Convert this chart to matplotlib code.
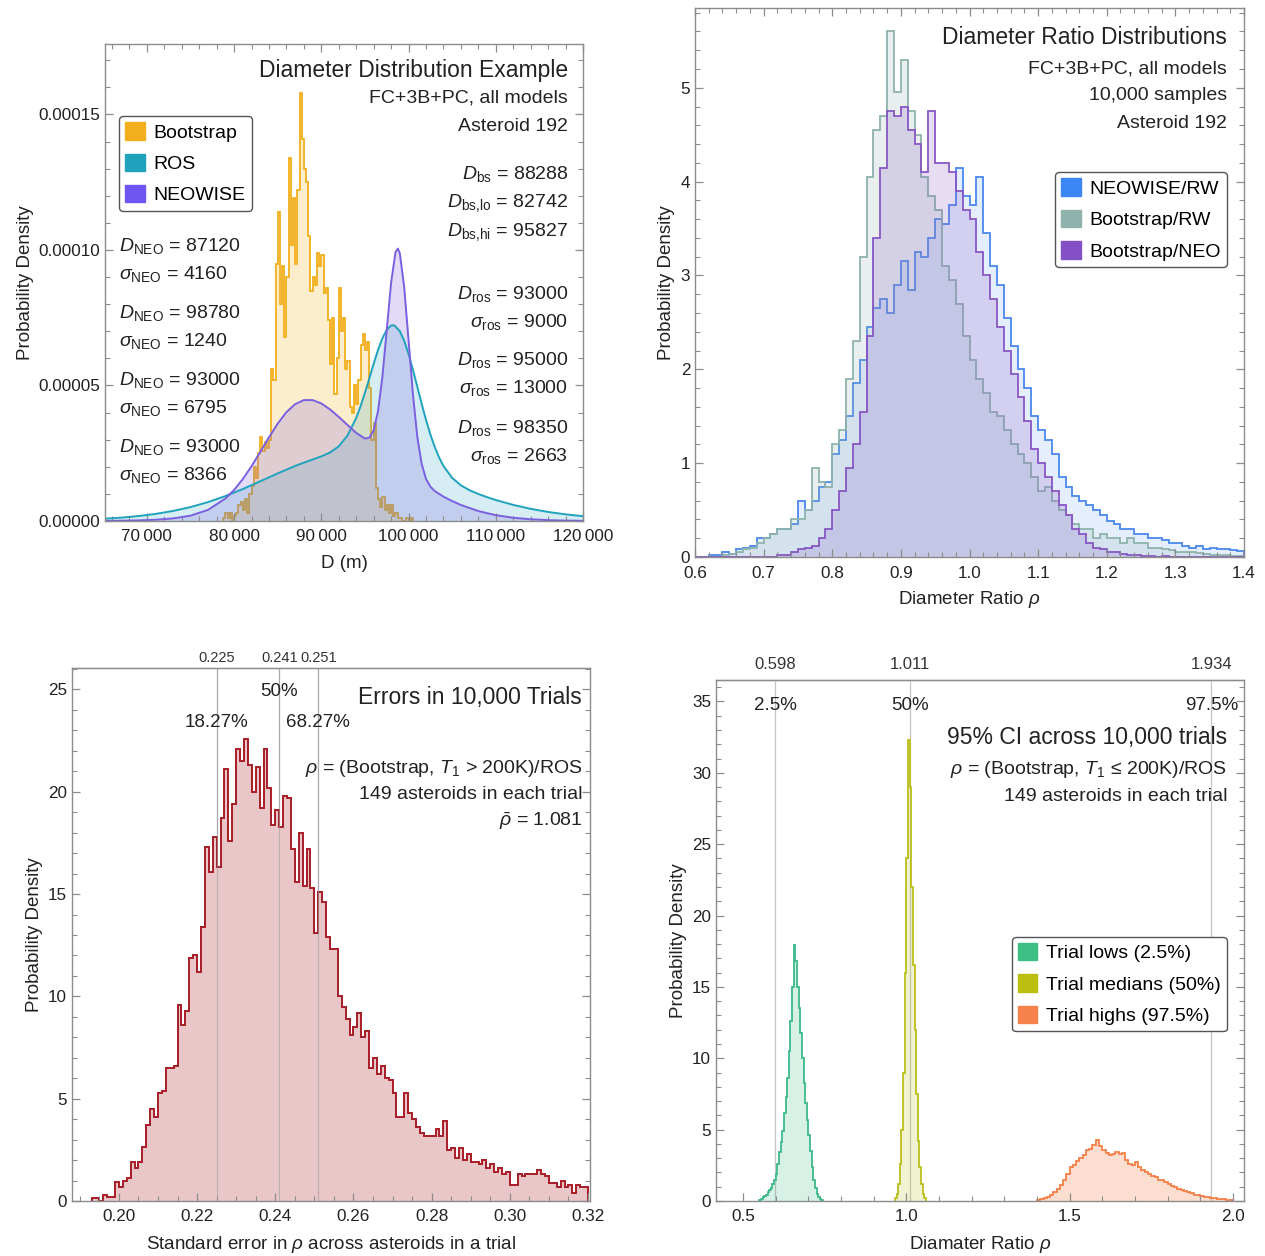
import numpy as np
import matplotlib
matplotlib.use("Agg")
import matplotlib.pyplot as plt
from matplotlib.patches import Patch
from matplotlib.ticker import MultipleLocator

plt.rcParams['font.family'] = ['Liberation Sans', 'DejaVu Sans']
plt.rcParams['mathtext.fontset'] = 'custom'
plt.rcParams['mathtext.rm'] = 'Liberation Sans'
plt.rcParams['mathtext.it'] = 'Liberation Sans:italic'
plt.rcParams['mathtext.bf'] = 'Liberation Sans:bold'
plt.rcParams['mathtext.sf'] = 'Liberation Sans'

# ---------------- top left: diameter distribution example ----------------
boot_start = 78750
boot_width = 250
# density in units of 1e-5 per metre
boot_vals = [0.1, 0.3, 0.1, 0.3, 0.0, 0.2, 0.3, 0.6, 0.7, 0.4,
             0.8, 0.3, 1.0, 1.3, 2.0, 1.6, 2.5, 3.1, 2.6, 2.9,
             2.7, 3.0, 5.6, 5.2, 9.5, 11.4, 8.0, 9.4, 6.8, 9.0,
             13.4, 10.2, 11.9, 9.5, 12.2, 15.8, 14.1, 13.0, 12.5, 10.5,
             8.5, 9.0, 8.7, 9.9, 9.4, 9.8, 8.4, 8.6, 7.4, 5.8,
             7.5, 4.7, 6.0, 8.6, 7.0, 7.5, 5.6, 5.9, 4.2, 4.0,
             5.0, 4.3, 5.2, 6.5, 6.9, 6.3, 6.6, 4.9, 3.0, 3.6,
             1.2, 0.8, 0.5, 0.9, 0.4, 0.6, 0.3, 0.6, 0.2, 0.3,
             0.1, 0.1, 0.0, 0.0, 0.1, 0.0, 0.1]

ros_x = [65000, 67000, 69000, 71000, 73000, 75000, 77000, 79000, 81000, 83000,
         85000, 87000, 88000, 89000, 90000, 91000, 92000, 93000, 94000, 94500,
         95000, 95500, 96000, 96500, 97000, 97500, 98000, 98350, 99000, 99500,
         100000, 100500, 101000, 101500, 102000, 102500, 103000, 103500, 104000, 105000,
         106000, 107000, 108000, 109000, 110000, 112000, 114000, 116000, 118000, 120000]
ros_y = [0.083, 0.123, 0.181, 0.261, 0.370, 0.513, 0.696, 0.920, 1.180, 1.465,
         1.756, 2.030, 2.154, 2.268, 2.384, 2.527, 2.755, 3.152, 3.802, 4.235,
         4.728, 5.26, 5.80, 6.309, 6.741, 7.054, 7.213, 7.222, 7.005, 6.652,
         6.163, 5.584, 4.959, 4.329, 3.733, 3.195, 2.731, 2.344, 2.031, 1.589,
         1.316, 1.134, 0.996, 0.879, 0.774, 0.594, 0.449, 0.334, 0.245, 0.177]

neo_x = [65000, 67000, 69000, 71000, 73000, 75000, 77000, 79000, 80000, 81000,
         82000, 83000, 84000, 85000, 86000, 87000, 88000, 89000, 90000, 91000,
         92000, 93000, 94000, 95000, 95500, 96000, 96500, 97000, 97500, 98000,
         98500, 98780, 99000, 99500, 100000, 100500, 101000, 101500, 102000, 102500,
         103000, 104000, 105000, 106000, 108000, 110000, 112000, 114000, 116000, 118000,
         120000]
neo_y = [0.0047, 0.0105, 0.0225, 0.0467, 0.095, 0.196, 0.408, 0.827, 1.146, 1.547,
         2.022, 2.548, 3.088, 3.594, 4.016, 4.312, 4.461, 4.461, 4.336, 4.116,
         3.841, 3.543, 3.251, 3.040, 3.071, 3.347, 4.050, 5.311, 7.038, 8.794,
         9.915, 10.05, 9.874, 8.635, 6.680, 4.682, 3.117, 2.114, 1.555, 1.267,
         1.105, 0.899, 0.735, 0.592, 0.367, 0.215, 0.120, 0.0635, 0.032, 0.0154,
         0.0071]

tl_xticks = [70000, 80000, 90000, 100000, 110000, 120000]
tl_xticklabels = ['70\u2009000', '80\u2009000', '90\u2009000', '100\u2009000', '110\u2009000', '120\u2009000']
tl_yticks = [0, 0.00005, 0.0001, 0.00015]
tl_yticklabels = ['0.00000', '0.00005', '0.00010', '0.00015']
tl_legend = ['Bootstrap', 'ROS', 'NEOWISE']
tl_right_notes = [r'$D_{\rm bs}$ = 88288', r'$D_{\rm bs{,}lo}$ = 82742', r'$D_{\rm bs{,}hi}$ = 95827',
                  r'$D_{\rm ros}$ = 93000', r'$\sigma_{\rm ros}$ = 9000',
                  r'$D_{\rm ros}$ = 95000', r'$\sigma_{\rm ros}$ = 13000',
                  r'$D_{\rm ros}$ = 98350', r'$\sigma_{\rm ros}$ = 2663']
tl_left_notes = [r'$D_{\rm NEO}$ = 87120', r'$\sigma_{\rm NEO}$ = 4160',
                 r'$D_{\rm NEO}$ = 98780', r'$\sigma_{\rm NEO}$ = 1240',
                 r'$D_{\rm NEO}$ = 93000', r'$\sigma_{\rm NEO}$ = 6795',
                 r'$D_{\rm NEO}$ = 93000', r'$\sigma_{\rm NEO}$ = 8366']

# ---------------- top right: ratio distributions ----------------
ratio_start = 0.60
ratio_width = 0.01
neo_rw = [0.0, 0.0, 0.02, 0.02, 0.05, 0.03, 0.08, 0.1, 0.12, 0.2,
          0.2, 0.25, 0.3, 0.3, 0.35, 0.6, 0.5, 0.6, 0.75, 0.8,
          1.1, 1.25, 1.5, 1.85, 2.1, 2.45, 2.65, 2.75, 2.6, 2.9,
          3.15, 2.85, 3.25, 3.2, 3.4, 3.6, 3.55, 3.75, 4.15, 3.85,
          3.75, 4.05, 3.45, 3.1, 2.9, 2.55, 2.25, 2.0, 1.8, 1.5,
          1.35, 1.25, 1.1, 0.85, 0.75, 0.65, 0.6, 0.55, 0.5, 0.45,
          0.38, 0.35, 0.3, 0.3, 0.25, 0.25, 0.2, 0.2, 0.18, 0.15,
          0.15, 0.12, 0.1, 0.12, 0.08, 0.1, 0.08, 0.08, 0.07, 0.06]
boot_rw = [0.0, 0.0, 0.0, 0.0, 0.02, 0.03, 0.05, 0.08, 0.1, 0.15,
           0.2, 0.25, 0.3, 0.3, 0.4, 0.4, 0.5, 0.95, 0.8, 0.75,
           1.2, 1.35, 1.9, 2.3, 3.2, 4.05, 4.55, 4.7, 5.6, 4.95,
           5.3, 4.75, 4.5, 4.05, 3.85, 3.7, 3.1, 2.95, 2.7, 2.35,
           2.1, 1.9, 1.75, 1.55, 1.5, 1.35, 1.2, 1.1, 1.0, 0.85,
           0.7, 0.75, 0.6, 0.5, 0.45, 0.35, 0.3, 0.3, 0.2, 0.25,
           0.2, 0.2, 0.15, 0.2, 0.15, 0.15, 0.1, 0.1, 0.08, 0.07,
           0.05, 0.05, 0.05, 0.04, 0.03, 0.02, 0.02, 0.02, 0.01, 0.01]
boot_neo = [0.0, 0.0, 0.0, 0.0, 0.0, 0.0, 0.0, 0.0, 0.0, 0.0,
            0.0, 0.0, 0.02, 0.02, 0.05, 0.08, 0.1, 0.12, 0.2, 0.3,
            0.5, 0.7, 0.95, 1.2, 1.55, 2.35, 3.4, 4.15, 4.75, 4.7,
            4.8, 4.55, 4.4, 4.1, 4.75, 4.2, 4.2, 4.1, 3.9, 3.7,
            3.6, 3.25, 3.0, 2.75, 2.45, 2.2, 1.95, 1.7, 1.45, 1.15,
            1.0, 0.85, 0.7, 0.55, 0.45, 0.3, 0.25, 0.15, 0.1, 0.08,
            0.05, 0.05, 0.03, 0.02, 0.02, 0.01, 0.01, 0.0, 0.01, 0.0,
            0.0, 0.0, 0.0, 0.0, 0.0, 0.0, 0.0, 0.0, 0.0, 0.0]
tr_legend = ['NEOWISE/RW', 'Bootstrap/RW', 'Bootstrap/NEO']
tr_notes = ['FC+3B+PC, all models', '10,000 samples', 'Asteroid 192']

# ---------------- bottom left: errors in trials ----------------
err_start = 0.193
err_width = 0.001
err_vals = [0.15, 0.15, 0.0, 0.3, 0.2, 0.2, 0.95, 0.7, 1.0, 1.1,
            1.9, 1.6, 1.9, 2.65, 3.7, 4.5, 4.1, 5.3, 5.4, 6.5,
            6.5, 6.6, 9.6, 8.6, 9.3, 11.9, 12.0, 11.2, 13.4, 17.3,
            16.1, 17.8, 16.3, 18.7, 21.1, 17.6, 19.4, 22.1, 21.5, 22.6,
            21.3, 20.0, 21.2, 19.2, 22.1, 20.2, 18.4, 19.1, 18.3, 19.8,
            19.7, 17.2, 15.6, 18.0, 15.4, 17.2, 15.3, 13.1, 15.1, 14.6,
            12.9, 12.3, 12.3, 10.0, 9.5, 8.9, 8.1, 8.5, 9.2, 8.0,
            8.3, 6.5, 7.0, 6.2, 6.6, 6.0, 5.9, 5.3, 4.1, 4.1,
            5.3, 4.3, 4.0, 3.6, 3.3, 3.2, 3.2, 3.2, 3.5, 3.2,
            3.9, 2.5, 2.6, 2.1, 2.6, 2.0, 2.3, 1.9, 1.9, 1.8,
            2.0, 1.6, 1.8, 1.4, 1.6, 1.3, 1.4, 0.8, 0.8, 1.3,
            1.2, 1.3, 1.3, 1.3, 1.5, 1.3, 1.2, 0.9, 0.9, 0.7,
            1.0, 0.7, 0.8, 0.4, 0.8, 0.7, 0.7]
err_pcts = [0.225, 0.241, 0.251]
err_pct_tags = ['18.27%', '50%', '68.27%']
err_notes = [r'$\rho$ = (Bootstrap, $T_1$ > 200K)/ROS', '149 asteroids in each trial',
             r'$\bar{\rho}$ = 1.081']

# ---------------- bottom right: 95% CI across trials ----------------
ci_fine = 0.005
lows_start = 0.550
lows_vals = [0.1, 0.15, 0.25, 0.35, 0.45, 0.6, 0.75, 0.9, 1.2, 1.5,
             1.9, 2.6, 3.4, 4.1, 4.9, 6.2, 7.3, 8.6, 10.5, 12.6,
             15.0, 17.9, 16.8, 15.0, 13.5, 11.8, 10.0, 8.3, 6.9, 5.7,
             4.6, 3.5, 2.4, 1.5, 0.9, 0.5, 0.3, 0.15, 0.05]
med_start = 0.965
med_vals = [0.2, 0.5, 1.2, 2.6, 5.0, 9.0, 16.0, 24.0, 32.3, 29.0,
            22.0, 16.5, 12.0, 7.5, 4.2, 2.4, 1.2, 0.5, 0.2]
high_start = 1.40
high_width = 0.01
high_vals = [0.05, 0.15, 0.2, 0.3, 0.45, 0.6, 0.85, 1.15, 1.5, 1.9,
             2.35, 2.55, 2.8, 3.0, 3.25, 3.6, 3.65, 3.95, 4.3, 3.85,
             3.6, 3.35, 3.25, 3.3, 3.4, 3.3, 3.35, 2.9, 2.6, 2.55,
             2.75, 2.35, 2.2, 2.0, 1.9, 1.75, 1.65, 1.5, 1.45, 1.3,
             1.2, 1.05, 0.95, 0.85, 0.75, 0.7, 0.6, 0.55, 0.45, 0.4,
             0.35, 0.3, 0.25, 0.22, 0.18, 0.15, 0.12, 0.12, 0.1, 0.08]
ci_pcts = [0.598, 1.011, 1.934]
ci_pct_tags = ['2.5%', '50%', '97.5%']
ci_legend = ['Trial lows (2.5%)', 'Trial medians (50%)', 'Trial highs (97.5%)']
ci_notes = [r'$\rho$ = (Bootstrap, $T_1$ ≤ 200K)/ROS', '149 asteroids in each trial']

# ---------------- drawing ----------------
W, H = 1265, 1256
fig = plt.figure(figsize=(W / 100, H / 100), dpi=100)
fig.patch.set_facecolor('white')

FRAME = '#8c8c8c'
TXT = '#222222'


def add_box(x0, y0, x1, y1):
    return fig.add_axes([x0 / W, 1 - y1 / H, (x1 - x0) / W, (y1 - y0) / H])


def style(ax, top=True):
    for s in ax.spines.values():
        s.set_color(FRAME)
        s.set_linewidth(1.0)
    ax.tick_params(which='both', direction='in', top=top, right=True,
                   colors=FRAME, labelcolor=TXT, labelsize=12.3)
    ax.tick_params(which='major', length=6, width=0.9)
    ax.tick_params(which='minor', length=3.5, width=0.8)
    ax.tick_params(axis='x', pad=6)


def hist(ax, vals, start, width, color, alpha, scale=1.0):
    v = np.asarray(vals) * scale
    edges = start + width * np.arange(len(v) + 1)
    ax.stairs(v, edges, fill=True, color=color, alpha=alpha, lw=0)
    ax.stairs(v, edges, color=color, lw=1.3)


def legend(ax, labels, colors, anchor, loc):
    handles = [Patch(facecolor=c, edgecolor=c) for c in colors]
    leg = ax.legend(handles, labels, loc=loc, bbox_to_anchor=anchor, fontsize=14,
                    handlelength=1.0, handleheight=1.0, handletextpad=0.45,
                    labelspacing=0.62, borderpad=0.32, borderaxespad=0,
                    frameon=True, fancybox=True, framealpha=1)
    leg.get_frame().set_edgecolor('#555555')
    leg.get_frame().set_linewidth(1.0)


def notes(ax, lines, x, ys, ha='right', size=14):
    for t, y in zip(lines, ys):
        ax.text(x, y, t, transform=ax.transAxes, ha=ha, va='center', fontsize=size, color=TXT)


# top left
boot_c, ros_c, neo_c = '#F2AF1C', '#1FA3BD', '#7A5FE0'
ax = add_box(105, 44, 583, 521)
hist(ax, boot_vals, boot_start, boot_width, boot_c, 0.22, 1e-5)
ax.fill_between(ros_x, np.array(ros_y) * 1e-5, color=ros_c, alpha=0.18, lw=0)
ax.fill_between(neo_x, np.array(neo_y) * 1e-5, color=neo_c, alpha=0.22, lw=0)
ax.plot(ros_x, np.array(ros_y) * 1e-5, color=ros_c, lw=1.4)
ax.plot(neo_x, np.array(neo_y) * 1e-5, color=neo_c, lw=1.4)
ax.set_xlim(65200, 120000)
ax.set_ylim(0, 0.000176)
ax.set_xticks(tl_xticks, tl_xticklabels)
ax.set_yticks(tl_yticks, tl_yticklabels)
ax.xaxis.set_minor_locator(MultipleLocator(2000))
ax.yaxis.set_minor_locator(MultipleLocator(0.00001))
style(ax)
ax.set_xlabel('D (m)', fontsize=13.5, color=TXT, labelpad=8)
ax.set_ylabel('Probability Density', fontsize=13.5, color=TXT, labelpad=3)
ax.text(0.969, 0.945, 'Diameter Distribution Example', transform=ax.transAxes,
        ha='right', va='center', fontsize=16.5, color=TXT)
notes(ax, ['FC+3B+PC, all models', 'Asteroid 192'], 0.969, [0.887, 0.826])
notes(ax, tl_right_notes, 0.969, [0.727, 0.667, 0.606, 0.476, 0.417, 0.338, 0.279, 0.195, 0.136])
notes(ax, tl_left_notes, 0.029, [0.577, 0.518, 0.436, 0.377, 0.296, 0.237, 0.155, 0.096], ha='left')
legend(ax, tl_legend, [boot_c, ros_c, '#6F55F2'], (0.029, 0.849), 'upper left')

# top right
rw_c, brw_c, bneo_c = '#4A88EE', '#8FB3AC', '#8757C4'
ax = add_box(695, 8, 1244, 557)
hist(ax, neo_rw, ratio_start, ratio_width, rw_c, 0.14)
hist(ax, boot_rw, ratio_start, ratio_width, brw_c, 0.2)
hist(ax, boot_neo, ratio_start, ratio_width, bneo_c, 0.2)
ax.set_xlim(0.6, 1.4)
ax.set_ylim(0, 5.85)
ax.set_xticks([0.6, 0.7, 0.8, 0.9, 1.0, 1.1, 1.2, 1.3, 1.4],
              ['0.6', '0.7', '0.8', '0.9', '1.0', '1.1', '1.2', '1.3', '1.4'])
ax.set_yticks([0, 1, 2, 3, 4, 5], ['0', '1', '2', '3', '4', '5'])
ax.xaxis.set_minor_locator(MultipleLocator(0.02))
ax.yaxis.set_minor_locator(MultipleLocator(0.2))
style(ax)
ax.tick_params(axis='x', pad=6.5)
ax.set_xlabel(r'Diameter Ratio $\rho$', fontsize=13.5, color=TXT, labelpad=6)
ax.set_ylabel('Probability Density', fontsize=13.5, color=TXT, labelpad=4)
ax.text(0.969, 0.947, 'Diameter Ratio Distributions', transform=ax.transAxes,
        ha='right', va='center', fontsize=16.5, color=TXT)
notes(ax, tr_notes, 0.969, [0.889, 0.840, 0.789])
legend(ax, tr_legend, ['#3D86F5', '#8FB3AC', '#8350C6'], (0.969, 0.701), 'upper right')

# bottom left
err_c = '#A81C26'
ax = add_box(72, 668, 590, 1201)
for v in err_pcts:
    ax.axvline(v, color='#b8b8b8', lw=0.9, zorder=0.5)
edges = err_start + err_width * np.arange(len(err_vals) + 1)
ax.stairs(err_vals, edges, fill=True, color='#E9C6C7', lw=0)
ax.stairs(err_vals, edges, color=err_c, lw=1.4)
for v in err_pcts:
    ax.axvline(v, color='#a0a0a0', lw=0.8, alpha=0.6)
ax.set_xlim(0.188, 0.3205)
ax.set_ylim(0, 26.05)
ax.set_xticks([0.20, 0.22, 0.24, 0.26, 0.28, 0.30, 0.32],
              ['0.20', '0.22', '0.24', '0.26', '0.28', '0.30', '0.32'])
ax.set_yticks([0, 5, 10, 15, 20, 25], ['0', '5', '10', '15', '20', '25'])
ax.xaxis.set_minor_locator(MultipleLocator(0.005))
ax.yaxis.set_minor_locator(MultipleLocator(1))
style(ax, top=False)
sec = ax.secondary_xaxis('top')
sec.set_xticks(err_pcts, [f'{v:.3f}' for v in err_pcts])
sec.tick_params(length=0, labelsize=10.5, labelcolor='#333333', pad=2)
sec.spines['top'].set_color(FRAME)
ax.set_xlabel(r'Standard error in $\rho$ across asteroids in a trial', fontsize=13.5, color=TXT, labelpad=7)
ax.set_ylabel('Probability Density', fontsize=13.5, color=TXT, labelpad=4)
ax.text(err_pcts[1], 24.9, err_pct_tags[1], ha='center', va='center', fontsize=13.5, color=TXT)
ax.text(err_pcts[0], 23.4, err_pct_tags[0], ha='center', va='center', fontsize=13.5, color=TXT)
ax.text(err_pcts[2], 23.4, err_pct_tags[2], ha='center', va='center', fontsize=13.5, color=TXT)
ax.text(0.985, 0.944, 'Errors in 10,000 Trials', transform=ax.transAxes,
        ha='right', va='center', fontsize=16.5, color=TXT)
notes(ax, err_notes, 0.985, [0.812, 0.762, 0.713])

# bottom right
low_c, med_c, high_c = '#3DB98A', '#BBBF1C', '#F47F45'
ax = add_box(716, 680, 1244, 1201)
for v in ci_pcts:
    ax.axvline(v, color='#c4c4c4', lw=0.9, zorder=0.5)
hist(ax, lows_vals, lows_start, ci_fine, low_c, 0.2)
hist(ax, med_vals, med_start, ci_fine, med_c, 0.2)
hist(ax, high_vals, high_start, high_width, high_c, 0.25)
ax.set_xlim(0.417, 2.034)
ax.set_ylim(0, 36.5)
ax.set_xticks([0.5, 1.0, 1.5, 2.0], ['0.5', '1.0', '1.5', '2.0'])
ax.set_yticks([0, 5, 10, 15, 20, 25, 30, 35], ['0', '5', '10', '15', '20', '25', '30', '35'])
ax.xaxis.set_minor_locator(MultipleLocator(0.1))
ax.yaxis.set_minor_locator(MultipleLocator(1))
style(ax, top=False)
sec = ax.secondary_xaxis('top')
sec.set_xticks(ci_pcts, [f'{v:.3f}' for v in ci_pcts])
sec.tick_params(length=0, labelsize=12, labelcolor='#333333', pad=6)
ax.set_xlabel(r'Diamater Ratio $\rho$', fontsize=13.5, color=TXT, labelpad=7)
ax.set_ylabel('Probability Density', fontsize=13.5, color=TXT, labelpad=4)
for v, t in zip(ci_pcts, ci_pct_tags):
    ax.text(v, 34.7, t, ha='center', va='center', fontsize=13.5, color=TXT)
ax.text(0.968, 0.889, '95% CI across 10,000 trials', transform=ax.transAxes,
        ha='right', va='center', fontsize=16.5, color=TXT)
notes(ax, ci_notes, 0.968, [0.829, 0.777])
legend(ax, ci_legend, ['#3DBE85', '#BDBE12', '#F5824A'], (0.968, 0.507), 'upper right')

fig.savefig('out.png', dpi=100, facecolor='white')
